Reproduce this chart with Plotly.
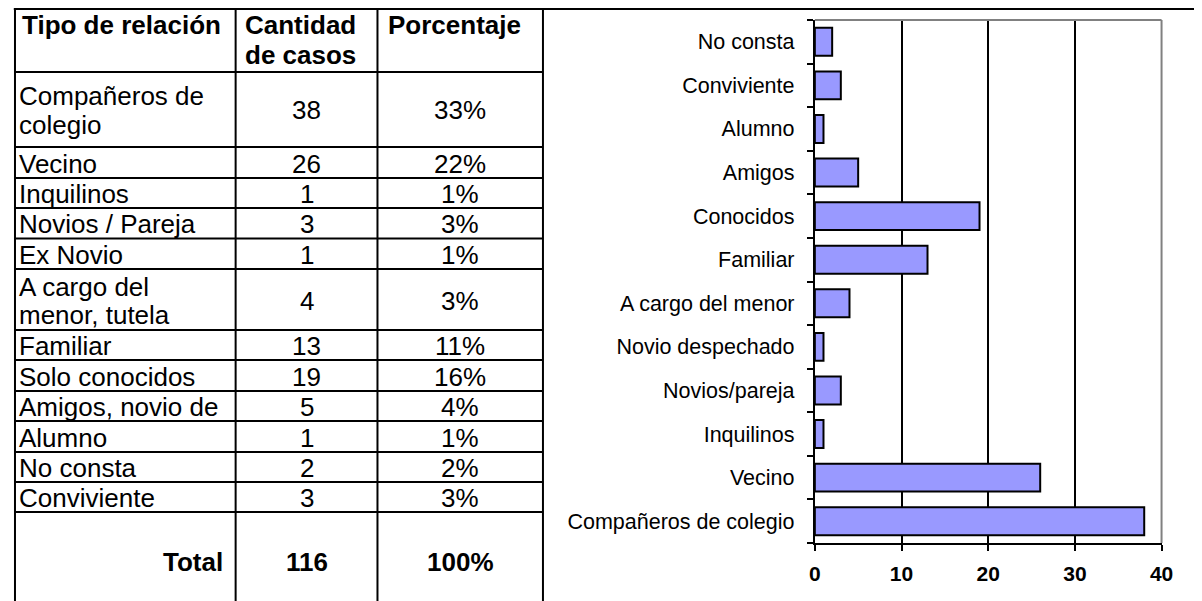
import plotly.graph_objects as go

# ---- datos de la tabla ----
encabezados = ["Tipo de relación", "Cantidad\nde casos", "Porcentaje"]
tipos_relacion = ["Compañeros de\ncolegio", "Vecino", "Inquilinos", "Novios / Pareja", "Ex Novio",
                  "A cargo del\nmenor, tutela", "Familiar", "Solo conocidos", "Amigos, novio de",
                  "Alumno", "No consta", "Conviviente"]
cantidad_casos = [38, 26, 1, 3, 1, 4, 13, 19, 5, 1, 2, 3]
porcentajes = ["33%", "22%", "1%", "3%", "1%", "3%", "11%", "16%", "4%", "1%", "2%", "3%"]
etiqueta_total = "Total"
porcentaje_total = "100%"

# ---- datos del grafico (de abajo hacia arriba) ----
categorias = ["Compañeros de colegio", "Vecino", "Inquilinos", "Novios/pareja", "Novio despechado",
              "A cargo del menor", "Familiar", "Conocidos", "Amigos", "Alumno", "Conviviente", "No consta"]
casos_grafico = [38, 26, 1, 3, 1, 4, 13, 19, 5, 1, 3, 2]
ticks_x = [0, 10, 20, 30, 40]

# ---- geometria (pixeles de pantalla; la pagina tiene 8px de margen) ----
W, H = 1202, 601
OFF = 8
FONT = "Liberation Sans, Arial, sans-serif"
col_x = [9, 233, 377, 545]
row_h = [63, 75, 31, 30, 30.5, 30.5, 61, 30, 31, 30, 31, 30, 30, 102]
top = 9
line_gap = 28
tsize = 26


def px(x):
    return (x - OFF) / W


def py(y):
    return 1 - (y - OFF) / H


row_y = [top]
for h in row_h:
    row_y.append(row_y[-1] + h)

fig = go.Figure()

fig.add_trace(go.Bar(
    x=casos_grafico,
    y=categorias,
    orientation="h",
    marker=dict(color="#9999FF", line=dict(color="black", width=2)),
    hoverinfo="x+y",
))

shapes = []
line_style = dict(color="black", width=2)
# linea superior a todo lo ancho
shapes.append(dict(type="line", xref="paper", yref="paper", x0=px(col_x[0]) - 0.001, x1=1,
                   y0=py(top), y1=py(top), line=line_style))
# verticales de la tabla
for x in col_x:
    shapes.append(dict(type="line", xref="paper", yref="paper", x0=px(x), x1=px(x),
                       y0=py(top), y1=0, line=line_style))
# horizontales de la tabla
for y in row_y[1:-1]:
    shapes.append(dict(type="line", xref="paper", yref="paper", x0=px(col_x[0]), x1=px(col_x[-1]),
                       y0=py(y), y1=py(y), line=line_style))
# borde gris del area de trazado (arriba y derecha)
gris = dict(color="#808080", width=2)
shapes.append(dict(type="line", xref="x domain", yref="y domain", x0=0, x1=1, y0=1, y1=1,
                   line=gris, layer="above"))
shapes.append(dict(type="line", xref="x domain", yref="y domain", x0=1, x1=1, y0=0, y1=1,
                   line=gris, layer="above"))

annotations = []


def texto(t, x, yc, anchor, bold=False, first_top=None):
    lines = str(t).split("\n")
    n = len(lines)
    for i, ln in enumerate(lines):
        if first_top is not None:
            y = first_top + i * 30
        else:
            y = yc + (i - (n - 1) / 2) * line_gap
        annotations.append(dict(
            x=px(x), y=py(y), xref="paper", yref="paper", text=ln, showarrow=False,
            xanchor=anchor, yanchor="middle",
            font=dict(family=FONT, size=tsize, color="black", weight="bold" if bold else "normal"),
        ))


# encabezados
texto(encabezados[0], 14, None, "left", bold=True, first_top=25)
texto(encabezados[1], 240, None, "left", bold=True, first_top=25)
texto(encabezados[2], 386, None, "left", bold=True, first_top=25)

# filas
for i, (t, c, p) in enumerate(zip(tipos_relacion, cantidad_casos, porcentajes)):
    yc = (row_y[i + 1] + row_y[i + 2]) / 2 + 1
    texto(t, 11, yc, "left")
    texto(c, (col_x[1] + col_x[2]) / 2, yc, "center")
    texto(p, (col_x[2] + col_x[3]) / 2, yc, "center")

# total
y_total = 562
texto(etiqueta_total, 222, y_total, "right", bold=True)
texto(sum(cantidad_casos), (col_x[1] + col_x[2]) / 2, y_total, "center", bold=True)
texto(porcentaje_total, (col_x[2] + col_x[3]) / 2, y_total, "center", bold=True)

fig.update_layout(
    width=W,
    height=H,
    autosize=False,
    margin=dict(l=0, r=0, t=0, b=0),
    paper_bgcolor="white",
    plot_bgcolor="white",
    showlegend=False,
    bargap=0.36,
    shapes=shapes,
    annotations=annotations,
    xaxis=dict(
        domain=[px(821), px(1173)],
        range=[0, 40],
        tickvals=ticks_x,
        showgrid=True, gridcolor="black", gridwidth=2,
        showline=True, linecolor="black", linewidth=2,
        ticks="outside", ticklen=6, tickwidth=2, tickcolor="black",
        zeroline=False,
        tickfont=dict(family=FONT, size=21, color="black", weight="bold"),
        ticklabelstandoff=5,
    ),
    yaxis=dict(
        domain=[py(543), py(20)],
        type="category",
        categoryorder="array", categoryarray=categorias,
        tickson="boundaries",
        showgrid=False,
        showline=True, linecolor="black", linewidth=2,
        ticks="outside", ticklen=6, tickwidth=2, tickcolor="black",
        tickfont=dict(family=FONT, size=21.5, color="black"),
        ticklabelstandoff=14,
    ),
)

fig.write_html("out.html")
